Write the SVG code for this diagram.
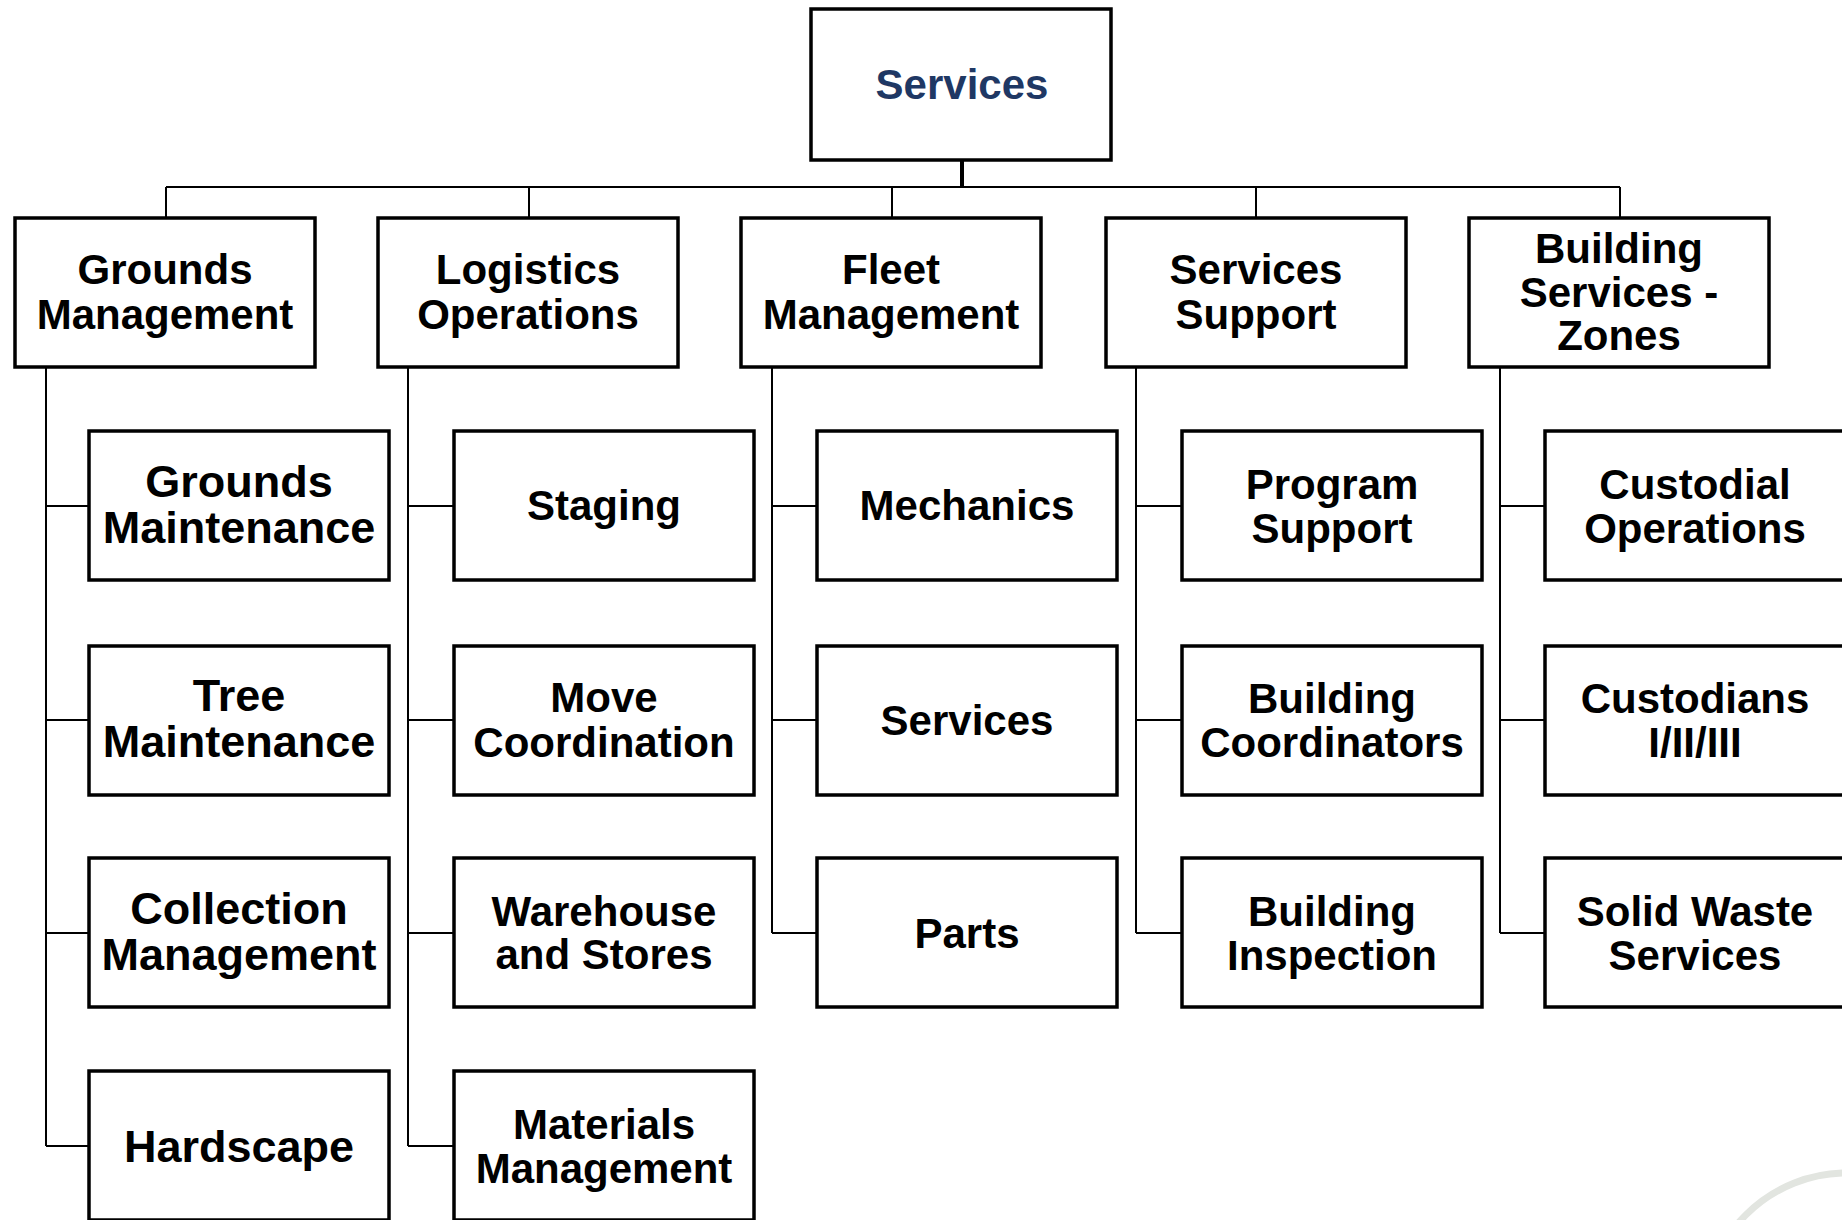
<svg xmlns="http://www.w3.org/2000/svg" width="1842" height="1220" viewBox="0 0 1842 1220">
<style>
.box{fill:#fff;stroke:#000;stroke-width:3.5}
.t{font-family:"Liberation Sans",Arial,sans-serif;font-weight:bold;font-size:42px;fill:#000;text-anchor:middle}
.g{font-size:45px}
.top{fill:#1f3864}
.c{fill:none;stroke:#000;stroke-width:2}
</style>
<rect width="1842" height="1220" fill="#fff"/>
<circle cx="1847" cy="1316" r="143" fill="none" stroke="#e2e5e0" stroke-width="7"/>
<g id="connectors">
<path class="c" d="M166 187H1620M166 187V218M529 187V218M892 187V218M1256 187V218M1620 187V218"/>
<path d="M962 160V188" stroke="#000" stroke-width="4" fill="none"/>
<path class="c" d="M46 368V1146M46 506H89M46 720H89M46 933H89M46 1146H89"/>
<path class="c" d="M408 368V1146M408 506H454M408 720H454M408 933H454M408 1146H454"/>
<path class="c" d="M772 368V933M772 506H817M772 720H817M772 933H817"/>
<path class="c" d="M1136 368V933M1136 506H1182M1136 720H1182M1136 933H1182"/>
<path class="c" d="M1500 368V933M1500 506H1545M1500 720H1545M1500 933H1545"/>
</g>
<g id="services"><rect class="box" x="811" y="9" width="300" height="151"/><text class="t top" x="962" y="99">Services</text></g>

<g id="grounds-management"><rect class="box" x="15" y="218" width="300" height="149"/><text class="t" x="165" y="284">Grounds</text><text class="t" x="165" y="329">Management</text></g>
<g id="logistics-operations"><rect class="box" x="378" y="218" width="300" height="149"/><text class="t" x="528" y="284">Logistics</text><text class="t" x="528" y="329">Operations</text></g>
<g id="fleet-management"><rect class="box" x="741" y="218" width="300" height="149"/><text class="t" x="891" y="284">Fleet</text><text class="t" x="891" y="329">Management</text></g>
<g id="services-support"><rect class="box" x="1106" y="218" width="300" height="149"/><text class="t" x="1256" y="284">Services</text><text class="t" x="1256" y="329">Support</text></g>
<g id="building-services-zones"><rect class="box" x="1469" y="218" width="300" height="149"/><text class="t" x="1619" y="263">Building</text><text class="t" x="1619" y="307">Services -</text><text class="t" x="1619" y="350">Zones</text></g>

<g id="grounds-maintenance"><rect class="box" x="89" y="431" width="300" height="149"/><text class="t g" x="239" y="497">Grounds</text><text class="t g" x="239" y="543">Maintenance</text></g>
<g id="tree-maintenance"><rect class="box" x="89" y="646" width="300" height="149"/><text class="t g" x="239" y="711">Tree</text><text class="t g" x="239" y="757">Maintenance</text></g>
<g id="collection-management"><rect class="box" x="89" y="858" width="300" height="149"/><text class="t g" x="239" y="924">Collection</text><text class="t g" x="239" y="970">Management</text></g>
<g id="hardscape"><rect class="box" x="89" y="1071" width="300" height="149"/><text class="t g" x="239" y="1162">Hardscape</text></g>

<g id="staging"><rect class="box" x="454" y="431" width="300" height="149"/><text class="t" x="604" y="520">Staging</text></g>
<g id="move-coordination"><rect class="box" x="454" y="646" width="300" height="149"/><text class="t" x="604" y="712">Move</text><text class="t" x="604" y="757">Coordination</text></g>
<g id="warehouse-and-stores"><rect class="box" x="454" y="858" width="300" height="149"/><text class="t" x="604" y="926">Warehouse</text><text class="t" x="604" y="969">and Stores</text></g>
<g id="materials-management"><rect class="box" x="454" y="1071" width="300" height="149"/><text class="t" x="604" y="1139">Materials</text><text class="t" x="604" y="1183">Management</text></g>

<g id="mechanics"><rect class="box" x="817" y="431" width="300" height="149"/><text class="t" x="967" y="520">Mechanics</text></g>
<g id="services-2"><rect class="box" x="817" y="646" width="300" height="149"/><text class="t" x="967" y="735">Services</text></g>
<g id="parts"><rect class="box" x="817" y="858" width="300" height="149"/><text class="t" x="967" y="948">Parts</text></g>

<g id="program-support"><rect class="box" x="1182" y="431" width="300" height="149"/><text class="t" x="1332" y="499">Program</text><text class="t" x="1332" y="543">Support</text></g>
<g id="building-coordinators"><rect class="box" x="1182" y="646" width="300" height="149"/><text class="t" x="1332" y="713">Building</text><text class="t" x="1332" y="757">Coordinators</text></g>
<g id="building-inspection"><rect class="box" x="1182" y="858" width="300" height="149"/><text class="t" x="1332" y="926">Building</text><text class="t" x="1332" y="970">Inspection</text></g>

<g id="custodial-operations"><rect class="box" x="1545" y="431" width="300" height="149"/><text class="t" x="1695" y="499">Custodial</text><text class="t" x="1695" y="543">Operations</text></g>
<g id="custodians"><rect class="box" x="1545" y="646" width="300" height="149"/><text class="t" x="1695" y="713">Custodians</text><text class="t" x="1695" y="757">I/II/III</text></g>
<g id="solid-waste-services"><rect class="box" x="1545" y="858" width="300" height="149"/><text class="t" x="1695" y="926">Solid Waste</text><text class="t" x="1695" y="970">Services</text></g>
</svg>
